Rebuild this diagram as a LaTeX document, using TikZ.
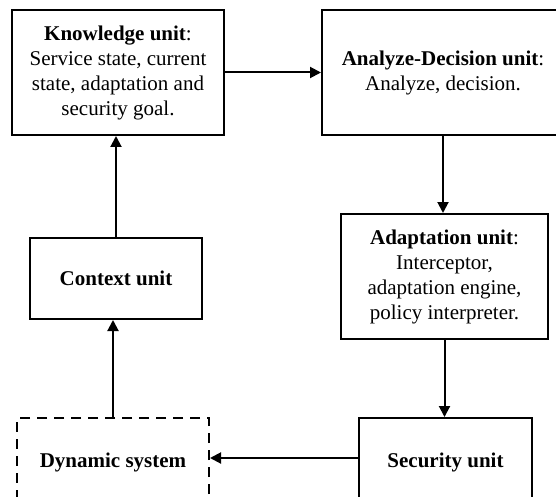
\documentclass[tikz,border=0pt]{standalone}
\usepackage{fontspec}
\setmainfont{Liberation Serif}
\usepackage{tikz}
\usetikzlibrary{arrows.meta}

\tikzset{
  unitbox/.style={draw, line width=2pt, align=center, inner sep=0pt,
    font=\fontsize{21}{25}\selectfont},
  flow/.style={line width=2pt, -{Triangle[length=11pt,width=11pt]}}
}

\begin{document}
\begin{tikzpicture}[x=1pt,y=-1pt]
\useasboundingbox (0,0) rectangle (556,497);
\clip (0,0) rectangle (556,497);
\node[unitbox, minimum width=212pt, minimum height=125pt] (know) at (118,72.5)
  {\textbf{Knowledge unit}:\\Service state, current\\state, adaptation and\\security goal.};
\node[unitbox, minimum width=242pt, minimum height=125pt] (anly) at (443,72.5)
  {\textbf{Analyze-Decision unit}:\\Analyze, decision.};
\node[unitbox, minimum width=207pt, minimum height=125pt] (adapt) at (444.5,276.5)
  {\textbf{Adaptation unit}:\\Interceptor,\\adaptation engine,\\policy interpreter.};
\node[unitbox, minimum width=173pt, minimum height=88pt] (sec) at (445.5,462)
  {\textbf{Security unit}};
\node[unitbox, dash pattern=on 10pt off 7pt, minimum width=192pt, minimum height=88pt] (dyn) at (113,462)
  {\textbf{Dynamic system}};
\node[unitbox, minimum width=172pt, minimum height=81pt] (ctx) at (116,278.5)
  {\textbf{Context unit}};
\draw[flow] (know.east) -- (anly.west);
\draw[flow] (anly.south) -- (anly.south |- adapt.north);
\draw[flow] (adapt.south) -- (adapt.south |- sec.north);
\draw[flow] ([yshift=4pt]sec.west) -- ([yshift=4pt]dyn.east);
\draw[flow] (dyn.north) -- (dyn.north |- ctx.south);
\draw[flow] (ctx.north) -- (ctx.north |- know.south);
\end{tikzpicture}
\end{document}
